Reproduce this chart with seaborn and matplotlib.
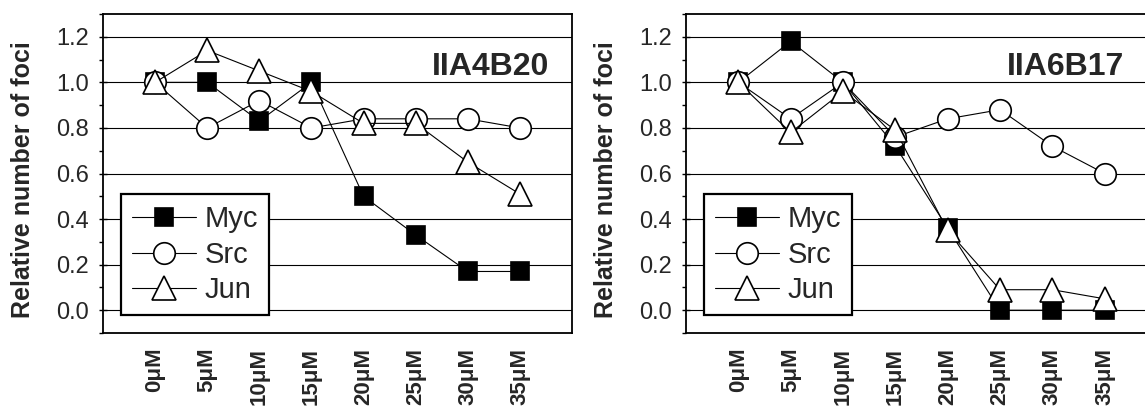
import matplotlib
matplotlib.use("Agg")
import matplotlib.pyplot as plt
import seaborn as sns
import numpy as np
from matplotlib.ticker import MultipleLocator

# ---- data ----
doses = ["0\u03bcM", "5\u03bcM", "10\u03bcM", "15\u03bcM", "20\u03bcM", "25\u03bcM", "30\u03bcM", "35\u03bcM"]
series_names = ["Myc", "Src", "Jun"]
panel_titles = ["IIA4B20", "IIA6B17"]

a4_myc = [1.00, 1.00, 0.83, 1.00, 0.50, 0.33, 0.17, 0.17]
a4_src = [1.00, 0.80, 0.92, 0.80, 0.84, 0.84, 0.84, 0.80]
a4_jun = [1.00, 1.14, 1.05, 0.96, 0.82, 0.82, 0.65, 0.51]

a6_myc = [1.00, 1.18, 1.00, 0.72, 0.36, 0.00, 0.00, 0.00]
a6_src = [1.00, 0.84, 1.00, 0.76, 0.84, 0.88, 0.72, 0.60]
a6_jun = [1.00, 0.78, 0.96, 0.79, 0.35, 0.09, 0.09, 0.05]

sns.set_style("white")
plt.rcParams["font.family"] = ["Liberation Sans", "DejaVu Sans"]

fig = plt.figure(figsize=(11.45, 4.18), dpi=100)
ax1 = fig.add_axes([103 / 1145, 85 / 418, 469 / 1145, 319 / 418])
ax2 = fig.add_axes([686 / 1145, 85 / 418, 471 / 1145, 319 / 418])

styles = {
    "Myc": dict(marker="s", markersize=13, markerfacecolor="black"),
    "Src": dict(marker="o", markersize=15.5, markerfacecolor="white"),
    "Jun": dict(marker="^", markersize=17, markerfacecolor="white"),
}

panels = [
    (ax1, panel_titles[0], [a4_myc, a4_src, a4_jun], 0.951),
    (ax2, panel_titles[1], [a6_myc, a6_src, a6_jun], 0.930),
]

x = np.arange(len(doses))
for ax, title, data, tx in panels:
    for name, vals in zip(series_names, data):
        st = styles[name]
        sns.lineplot(x=x, y=vals, ax=ax, color="black", linewidth=0.8,
                     marker=st["marker"], markersize=st["markersize"],
                     markerfacecolor=st["markerfacecolor"],
                     markeredgecolor="black", markeredgewidth=1.2,
                     label=name, sort=False, zorder=3, clip_on=False)
    ax.set_xlim(-1, 8)
    ax.set_ylim(-0.1, 1.3)
    ax.yaxis.set_major_locator(MultipleLocator(0.2))
    ax.yaxis.set_minor_locator(MultipleLocator(0.1))
    ax.set_yticks(np.round(np.arange(0, 1.21, 0.2), 1))
    ax.set_yticklabels([f"{v:.1f}" for v in np.arange(0, 1.21, 0.2)])
    ax.set_xticks(np.arange(-1, 9))
    ax.set_xticklabels([""] + doses + [""], rotation=90, fontweight="bold")
    ax.tick_params(axis="x", direction="out", length=4.5, width=1.2,
                   pad=6, labelsize=16, color="black")
    ax.tick_params(axis="y", which="major", direction="inout", length=6,
                   width=1.0, pad=7, labelsize=17, color="black", left=True)
    ax.tick_params(axis="y", which="minor", direction="out", length=3,
                   width=1.0, color="black", left=True)
    ax.grid(axis="y", which="major", color="black", linewidth=0.8, zorder=1)
    ax.set_axisbelow(True)
    for sp in ax.spines.values():
        sp.set_visible(True)
        sp.set_color("black")
        sp.set_linewidth(1.3)
    ax.set_xlabel("")
    ax.set_ylabel("Relative number of foci", fontsize=18, fontweight="bold")
    ax.yaxis.set_label_coords(-0.145, 0.48)
    ax.text(tx, 0.809, title, transform=ax.transAxes, ha="right",
            va="baseline", fontsize=23, fontweight="bold")
    leg = ax.legend(loc="lower left", bbox_to_anchor=(0.038, 0.055),
                    borderaxespad=0, fontsize=21, frameon=True,
                    fancybox=False, edgecolor="black", framealpha=1,
                    handlelength=2.2, handletextpad=0.28, labelspacing=0.26,
                    borderpad=0.38)
    leg.get_frame().set_linewidth(1.6)
    leg.set_zorder(5)

fig.savefig("out.png", dpi=100)
